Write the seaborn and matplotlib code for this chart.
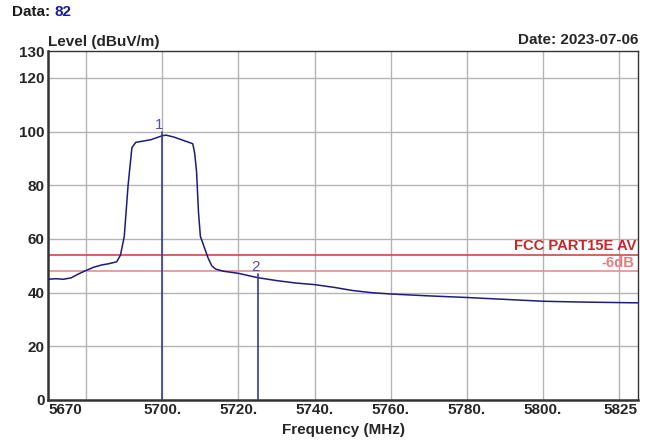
import numpy as np
import pandas as pd
import matplotlib
matplotlib.use('Agg')
import matplotlib.pyplot as plt
import seaborn as sns

# spectrum trace
freq_mhz = [5670, 5672, 5674, 5676, 5678, 5680, 5682, 5684, 5686, 5688,
            5689, 5690, 5691, 5692, 5693, 5695, 5697, 5699, 5700, 5701,
            5703, 5705, 5707, 5708, 5708.5, 5709, 5709.5, 5710, 5711, 5712,
            5713, 5714, 5716, 5720, 5725, 5730, 5735, 5740, 5745, 5750,
            5755, 5760, 5770, 5780, 5790, 5800, 5810, 5820, 5825]
level_dbuv = [45.0, 45.2, 45.0, 45.5, 47.0, 48.3, 49.5, 50.3, 50.8, 51.5,
              54.0, 61.0, 80.0, 94.0, 96.0, 96.5, 97.0, 98.0, 98.5, 98.7,
              98.0, 97.0, 96.0, 95.5, 92.0, 85.0, 70.0, 61.0, 57.0, 53.0,
              50.0, 48.8, 48.0, 47.2, 45.6, 44.5, 43.6, 43.0, 42.0, 40.8,
              40.0, 39.5, 38.8, 38.2, 37.5, 36.8, 36.5, 36.3, 36.2]

marker_ids = ['1', '2']
marker_freq = [5700, 5725.2]
marker_level = [98.5, 45.6]

limit_levels = [54, 48]
limit_labels = ['FCC PART15E AV', '-6dB']

xtick_pos = [5670, 5700, 5720, 5740, 5760, 5780, 5800, 5825]
xtick_text = ['5670', '5700.', '5720.', '5740.', '5760.', '5780.', '5800.', '5825']
xgrid_pos = [5680, 5700, 5720, 5740, 5760, 5780, 5800, 5820]
ytick_pos = [0, 20, 40, 60, 80, 100, 120, 130]

sns.set_style('white')
plt.rcParams['font.family'] = ['Liberation Sans', 'DejaVu Sans']
plt.rcParams['font.weight'] = 'bold'

fig = plt.figure(figsize=(6.51, 4.41), dpi=100)
ax = fig.add_axes([0.074, 0.093, 0.906, 0.791])

df = pd.DataFrame({'freq': freq_mhz, 'level': level_dbuv})

for x in xgrid_pos:
    ax.axvline(x, color='#b4b4b4', lw=1, zorder=0)
for y in ytick_pos[1:-1]:
    ax.axhline(y, color='#b4b4b4', lw=1, zorder=0)

ax.axhline(limit_levels[0], color='#cc4a4a', lw=1.2, zorder=1)
ax.axhline(limit_levels[1], color='#e39090', lw=1.2, zorder=1)

sns.lineplot(data=df, x='freq', y='level', color='#1c1c80', lw=1.1, ax=ax, zorder=3)

for mid, mf, ml in zip(marker_ids, marker_freq, marker_level):
    ax.plot([mf, mf], [0, ml + 1.5], color='#3a3aa8', lw=1.2, zorder=4)
    ax.text(mf - 0.8, ml + 1.5, mid, color='#5050b0', fontsize=11,
            ha='center', va='bottom', fontweight='normal')

ax.text(5824.5, limit_levels[0] + 0.6, limit_labels[0], color='#c42828',
        fontsize=10.6, ha='right', va='bottom', fontweight='bold')
ax.text(5824, limit_levels[1] + 0.6, limit_labels[1], color='#e07f7f',
        fontsize=10.6, ha='right', va='bottom', fontweight='bold')

ax.set_xlim(5670, 5825)
ax.set_ylim(0, 130)
ax.set_xticks(xtick_pos)
ax.set_xticklabels(xtick_text, fontsize=11, fontweight='bold')
labels = ax.get_xticklabels()
labels[0].set_ha('left')
labels[-1].set_ha('right')
ax.set_yticks(ytick_pos)
ax.set_yticklabels([str(v) for v in ytick_pos], fontsize=11, fontweight='bold')
ax.tick_params(axis='both', length=0, pad=2.5)
ax.set_xlabel('Frequency (MHz)', fontsize=11, fontweight='bold', labelpad=4)
ax.set_ylabel('')

for s in ax.spines.values():
    s.set_color('#333333')
    s.set_linewidth(1.0)
ax.spines['left'].set_linewidth(1.8)
ax.spines['bottom'].set_linewidth(1.8)

fig.text(0.018, 0.972, 'Data:', fontsize=11, fontweight='bold', color='#1a1a1a', va='center')
fig.text(0.084, 0.972, '82', fontsize=11, fontweight='bold', color='#1a1aa0', va='center')
ax.text(0.0, 1.005, 'Level (dBuV/m)', transform=ax.transAxes, fontsize=11,
        fontweight='bold', ha='left', va='bottom')
ax.text(1.0, 1.012, 'Date: 2023-07-06', transform=ax.transAxes, fontsize=11,
        fontweight='bold', ha='right', va='bottom')

fig.savefig('out.png', dpi=100, facecolor='white')
